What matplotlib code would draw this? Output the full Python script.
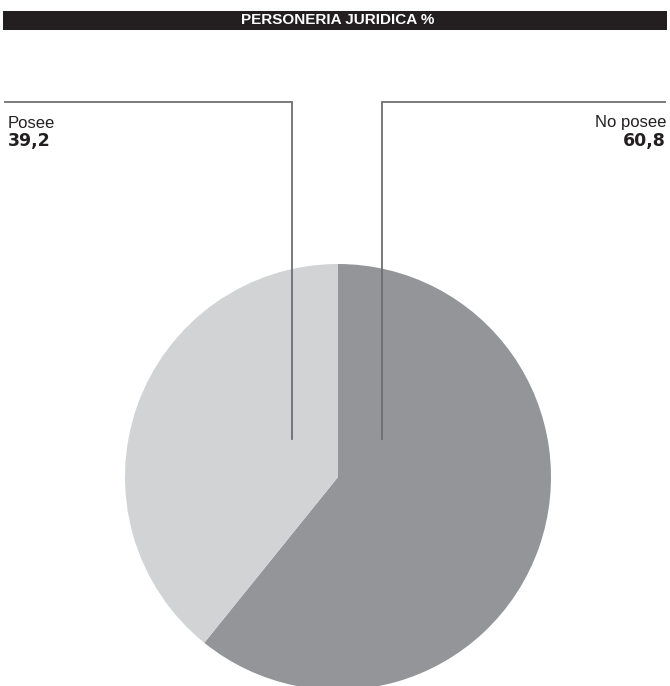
import matplotlib
matplotlib.use("Agg")
import matplotlib.pyplot as plt
from matplotlib.patches import Rectangle
from matplotlib import font_manager as fm

title = "PERSONERIA JURIDICA %"
categories = ["No posee", "Posee"]
values = [60.8, 39.2]
value_labels = ["60,8", "39,2"]
colors = ["#939598", "#d1d3d4"]

W, H = 670, 686
fig = plt.figure(figsize=(W / 100, H / 100), dpi=100)
ax = fig.add_axes([0, 0, 1, 1])
ax.set_xlim(0, W)
ax.set_ylim(0, H)
ax.set_aspect("equal")
ax.axis("off")

def Y(y):
    return H - y

# title bar
ax.add_patch(Rectangle((3, Y(29.5)), 664, 18.5, color="#231f20", lw=0))
names = {f.name for f in fm.fontManager.ttflist}
title_font = "Liberation Sans Narrow" if "Liberation Sans Narrow" in names else "Liberation Sans"
ax.text(338, Y(20.5), title, ha="center", va="center", color="white",
        fontsize=11, fontweight="bold", family=title_font)

# pie
ax.pie(values, colors=colors, startangle=90, counterclock=False,
       center=(338, Y(477)), radius=213, frame=True,
       wedgeprops=dict(linewidth=0))
ax.set_xlim(0, W)
ax.set_ylim(0, H)
ax.axis("off")

# leader lines
lc = "#6d6e71"
ax.plot([292, 292, 5], [Y(439), Y(102), Y(102)], color=lc, lw=1.3, solid_joinstyle="miter")
ax.plot([382, 382, 665], [Y(439), Y(102), Y(102)], color=lc, lw=1.3, solid_joinstyle="miter")

# labels
ax.text(8, Y(127.5), categories[1], ha="left", va="baseline", fontsize=12,
        family="Liberation Sans", color="#231f20")
ax.text(8, Y(146), value_labels[1], ha="left", va="baseline", fontsize=12.5,
        family="DejaVu Sans", fontweight="bold", color="#231f20")
ax.text(666, Y(127.5), categories[0], ha="right", va="baseline", fontsize=12,
        family="Liberation Sans", color="#231f20")
ax.text(666, Y(146), value_labels[0], ha="right", va="baseline", fontsize=12.5,
        family="DejaVu Sans", fontweight="bold", color="#231f20")

fig.savefig("out.png", dpi=100, facecolor="white")
